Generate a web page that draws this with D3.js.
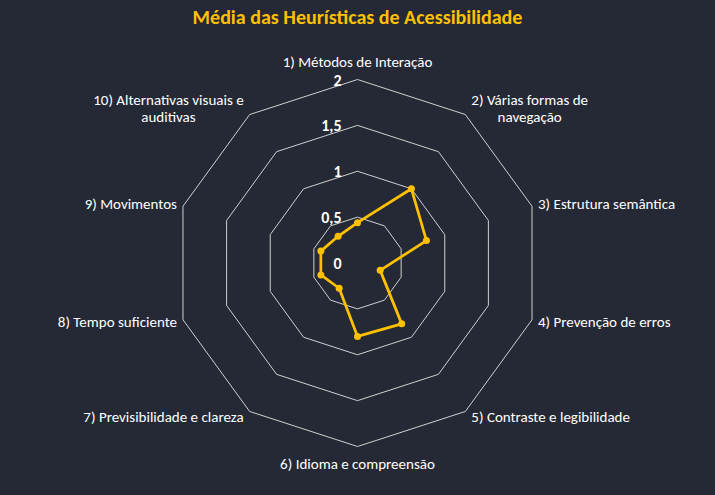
<!DOCTYPE html>
<html><head><meta charset="utf-8">
<script src="https://cdn.jsdelivr.net/npm/d3@7"></script>
<style>
html,body{margin:0;padding:0;background:#242935;}
svg{display:block;}
text{font-family:Carlito, Lato, "Open Sans", sans-serif;}
</style></head>
<body>
<script>
const title = "Média das Heurísticas de Acessibilidade";
const categories = [
  "1) Métodos de Interação",
  "2) Várias formas de\nnavegação",
  "3) Estrutura semântica",
  "4) Prevenção de erros",
  "5) Contraste e legibilidade",
  "6) Idioma e compreensão",
  "7) Previsibilidade e clareza",
  "8) Tempo suficiente",
  "9) Movimentos",
  "10) Alternativas visuais e\nauditivas"
];
const values = [0.44, 1.0, 0.79, 0.26, 0.82, 0.80, 0.34, 0.42, 0.42, 0.36];
const ticks = [0, 0.5, 1, 1.5, 2];
const tickLabels = ["0", "0,5", "1", "1,5", "2"];

const W = 715, H = 495;
const cx = 357.5, cy = 263, R = 183.5;
const svg = d3.select("body").append("svg").attr("width", W).attr("height", H);
svg.append("rect").attr("width", W).attr("height", H).attr("fill", "#242935");

const r = d3.scaleLinear().domain([0, 2]).range([0, R]);
const n = categories.length;
const ang = d3.scaleLinear().domain([0, n]).range([0, 2 * Math.PI]);
const pt = (i, v) => [cx + r(v) * Math.sin(ang(i)), cy - r(v) * Math.cos(ang(i))];

// gridlines
const g = svg.append("g");
ticks.filter(t => t > 0).forEach(t => {
  const pts = d3.range(n).map(i => pt(i, t));
  g.append("path")
    .attr("d", d3.line()(pts) + "Z")
    .attr("fill", "none")
    .attr("stroke", "#d0d0d0")
    .attr("stroke-width", 1);
});

// tick labels
ticks.forEach((t, k) => {
  svg.append("text")
    .attr("x", cx - 16)
    .attr("y", cy - r(t) + 6)
    .attr("text-anchor", "end")
    .attr("fill", "#ffffff")
    .attr("font-weight", "bold")
    .attr("font-size", 16)
    .text(tickLabels[k]);
});

// series
const line = d3.line();
svg.append("path")
  .attr("d", line(values.map((v, i) => pt(i, v))) + "Z")
  .attr("fill", "none")
  .attr("stroke", "#FFC000")
  .attr("stroke-width", 2.75)
  .attr("stroke-linejoin", "round");
svg.selectAll("circle.m").data(values).enter().append("circle")
  .attr("cx", (v, i) => pt(i, v)[0])
  .attr("cy", (v, i) => pt(i, v)[1])
  .attr("r", 3.5)
  .attr("fill", "#FFC000");

// category labels
categories.forEach((c, i) => {
  const a = ang(i);
  const s = Math.sin(a), co = Math.cos(a);
  const [vx, vy] = pt(i, 2);
  const lines = c.split("\n");
  const t = svg.append("text")
    .attr("fill", "#ffffff")
    .attr("font-size", 15)
    .attr("text-anchor", "middle");
  const tsp = lines.map(l => t.append("tspan").text(l));
  const widths = tsp.map(ts => ts.node().getComputedTextLength());
  const bw = d3.max(widths);
  const lh = 17;
  let xc, yc;
  if (Math.abs(s) < 1e-6) {
    xc = vx;
    yc = vy - co * 17.5;
  } else {
    xc = s > 0 ? vx + 6 + bw / 2 : vx - 6 - bw / 2;
    yc = vy - co * 7;
  }
  const y0 = yc - (lines.length - 1) * lh / 2;
  tsp.forEach((ts, k) => ts.attr("x", xc).attr("y", y0 + k * lh + 5));
});

// title
svg.append("text")
  .attr("x", cx)
  .attr("y", 24)
  .attr("text-anchor", "middle")
  .attr("fill", "#FFC000")
  .attr("font-weight", "bold")
  .attr("font-size", 20)
  .text(title);
</script>
</body></html>
